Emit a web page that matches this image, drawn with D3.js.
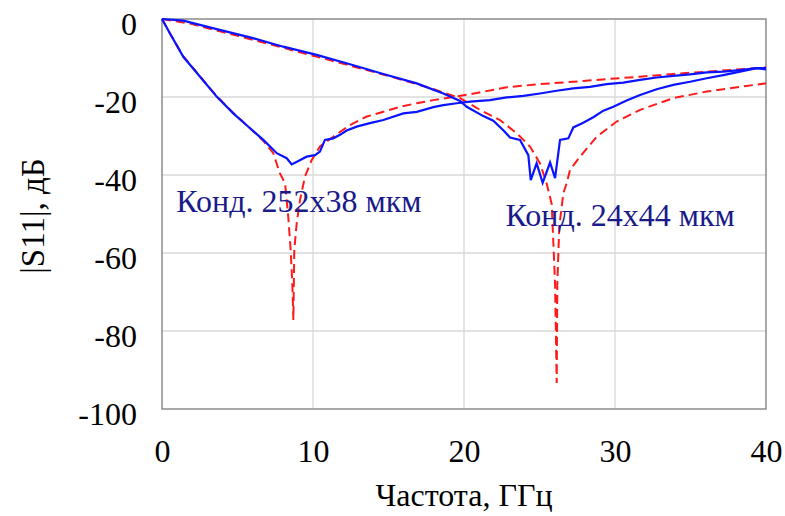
<!DOCTYPE html>
<html>
<head>
<meta charset="utf-8">
<script src="https://cdn.jsdelivr.net/npm/d3@7"></script>
<style>
  body { margin: 0; background: #fff; }
  svg text { font-family: "Liberation Serif", "Times New Roman", serif; }
</style>
</head>
<body>
<div id="chart"></div>
<script>
const width = 785;
const height = 516;
const margin = { top: 19, right: 19, bottom: 107, left: 162 };

const xTicks = [0, 10, 20, 30, 40];
const yTicks = [0, -20, -40, -60, -80, -100];

// measured, capacitor 252x38 um (resonance ~8.7 GHz)
const measA = [
  [0, 0], [0.53, -3.7], [1.41, -9.7], [2.52, -14.8], [3.62, -19.9], [4.72, -24.2],
  [5.83, -28.0], [6.71, -31.0], [7.6, -34.4], [8.26, -35.7], [8.59, -37.3],
  [9.03, -36.4], [9.58, -35.3], [10.13, -34.9], [10.46, -34.0], [10.79, -31.0],
  [11.34, -30.6], [11.79, -29.7], [12.23, -28.6], [12.89, -27.6], [13.77, -26.7],
  [14.66, -25.9], [15.98, -24.2], [16.87, -23.8], [17.97, -22.6], [18.63, -22.1],
  [19.52, -21.6], [20.4, -21.2], [21.72, -20.8], [22.83, -20.1], [23.93, -19.7],
  [25.03, -19.1], [26.14, -18.4], [27.24, -17.8], [28.34, -17.4], [29.45, -16.7],
  [30.55, -16.3], [31.66, -15.6], [32.76, -15.0], [33.86, -14.6], [34.97, -14.2],
  [36.07, -13.7], [37.17, -13.5], [38.28, -13.1], [39.38, -12.6], [40, -12.6]
];

// simulated, capacitor 252x38 um
const simA = [
  [0, 0], [0.5, -3.5], [1.4, -9.5], [2.5, -14.6], [3.6, -19.7], [4.7, -24.0],
  [5.8, -27.9], [6.7, -31.2], [7.37, -34.4], [7.81, -39.6], [8.15, -42.1],
  [8.36, -50.7], [8.52, -59.2], [8.63, -67.8], [8.7, -77.2], [8.76, -59.2],
  [8.92, -52.4], [9.14, -46.4], [9.47, -40.4], [9.91, -36.2], [10.46, -32.7],
  [11.34, -30.2], [12.45, -27.2], [13.56, -25.0], [14.66, -23.8], [15.76, -22.5],
  [16.87, -21.6], [17.97, -20.8], [19.07, -20.1], [20.4, -19.3], [22.83, -17.5],
  [25.03, -16.7], [27.24, -16.1], [29.45, -15.4], [31.66, -14.8], [33.86, -14.1],
  [36.07, -13.5], [38.28, -12.9], [40, -12.4]
];

// measured, capacitor 24x44 um (resonance ~26 GHz)
const measB = [
  [0, 0], [1.41, -0.4], [3.62, -2.6], [5.83, -4.7], [8.03, -7.1], [10.24, -9.2],
  [12.45, -11.6], [14.66, -14.1], [16.87, -16.5], [18.63, -19.1], [19.74, -21.0],
  [20.18, -22.5], [21.28, -24.9], [21.94, -26.1], [22.6, -28.5], [23.05, -30.4],
  [23.71, -31.0], [24.26, -34.9], [24.42, -41.3], [24.81, -37.0], [25.21, -42.0],
  [25.7, -36.8], [26.03, -40.8], [26.36, -31.0], [26.91, -30.6], [27.24, -27.8],
  [27.9, -26.6], [28.56, -25.2], [29.23, -23.5], [29.89, -22.5], [30.77, -20.9],
  [31.66, -19.5], [32.76, -18.0], [33.86, -16.9], [34.97, -16.1], [36.07, -15.2],
  [37.17, -14.4], [38.28, -13.5], [39.38, -12.6], [40, -12.9]
];

// simulated, capacitor 24x44 um
const simB = [
  [0, 0], [2, -1.3], [5, -4.3], [10, -9.4], [15, -14.6], [18, -18.0],
  [19.74, -20.3], [21.06, -23.3], [22.38, -25.9], [23.49, -29.3], [24.37, -32.7],
  [25.03, -37.0], [25.47, -42.1], [25.81, -47.5], [26.03, -67.8], [26.14, -93.3],
  [26.18, -67.8], [26.31, -53.2], [26.58, -44.7], [26.8, -42.1], [27.02, -38.7],
  [27.68, -35.3], [28.79, -30.2], [30.11, -26.3], [31.66, -23.3], [33.86, -20.3],
  [36.07, -18.6], [38.28, -17.4], [40, -16.5]
];

const labels = [
  { text: "Конд. 252х38 мкм", f: 0.95, db: -49.6 },
  { text: "Конд. 24х44 мкм", f: 22.75, db: -53.0 }
];

const x = d3.scaleLinear().domain([0, 40]).range([margin.left, width - margin.right]);
const y = d3.scaleLinear().domain([-100, 0]).range([height - margin.bottom, margin.top]);

const svg = d3.select("#chart").append("svg")
  .attr("width", width)
  .attr("height", height);

// grid
svg.append("g")
  .selectAll("line")
  .data(xTicks.slice(1, -1))
  .join("line")
  .attr("x1", d => x(d)).attr("x2", d => x(d))
  .attr("y1", y(0)).attr("y2", y(-100))
  .attr("stroke", "#d9d9d9").attr("stroke-width", 1.3);

svg.append("g")
  .selectAll("line")
  .data(yTicks.slice(1, -1))
  .join("line")
  .attr("x1", x(0)).attr("x2", x(40))
  .attr("y1", d => y(d)).attr("y2", d => y(d))
  .attr("stroke", "#d9d9d9").attr("stroke-width", 1.3);

// frame
svg.append("rect")
  .attr("x", x(0)).attr("y", y(0))
  .attr("width", x(40) - x(0)).attr("height", y(-100) - y(0))
  .attr("fill", "none").attr("stroke", "#8c8c8c").attr("stroke-width", 1.5);

// axes (labels only)
const xAxis = svg.append("g")
  .attr("transform", `translate(0,${y(-100)})`)
  .call(d3.axisBottom(x).tickValues(xTicks).tickFormat(d => String(d)).tickSize(0).tickPadding(30));
const yAxis = svg.append("g")
  .attr("transform", `translate(${x(0)},0)`)
  .call(d3.axisLeft(y).tickValues(yTicks).tickFormat(d => String(d)).tickSize(0).tickPadding(25));
[xAxis, yAxis].forEach(g => {
  g.select(".domain").remove();
  g.selectAll("text")
    .attr("font-family", "Liberation Serif, serif")
    .attr("font-size", 32)
    .attr("fill", "#000");
});
yAxis.selectAll("text").attr("dy", "0.47em");

const line = d3.line().x(d => x(d[0])).y(d => y(d[1]));

svg.append("path").datum(simA).attr("d", line)
  .attr("fill", "none").attr("stroke", "#ff1a1a").attr("stroke-width", 2)
  .attr("stroke-dasharray", "9,5");
svg.append("path").datum(simB).attr("d", line)
  .attr("fill", "none").attr("stroke", "#ff1a1a").attr("stroke-width", 2)
  .attr("stroke-dasharray", "9,5");
svg.append("path").datum(measA).attr("d", line)
  .attr("fill", "none").attr("stroke", "#0a14ff").attr("stroke-width", 2.2);
svg.append("path").datum(measB).attr("d", line)
  .attr("fill", "none").attr("stroke", "#0a14ff").attr("stroke-width", 2.2);

// annotations
svg.append("g")
  .selectAll("text")
  .data(labels)
  .join("text")
  .attr("x", d => x(d.f))
  .attr("y", d => y(d.db))
  .attr("font-size", 32)
  .attr("fill", "#1a1a8a")
  .text(d => d.text);

// axis titles
svg.append("text")
  .attr("x", (x(0) + x(40)) / 2)
  .attr("y", 506)
  .attr("text-anchor", "middle")
  .attr("font-size", 32)
  .text("Частота, ГГц");

svg.append("text")
  .attr("transform", "translate(44,216) rotate(-90)")
  .attr("text-anchor", "middle")
  .attr("font-size", 33)
  .text("|S11|, дБ");
</script>
</body>
</html>
